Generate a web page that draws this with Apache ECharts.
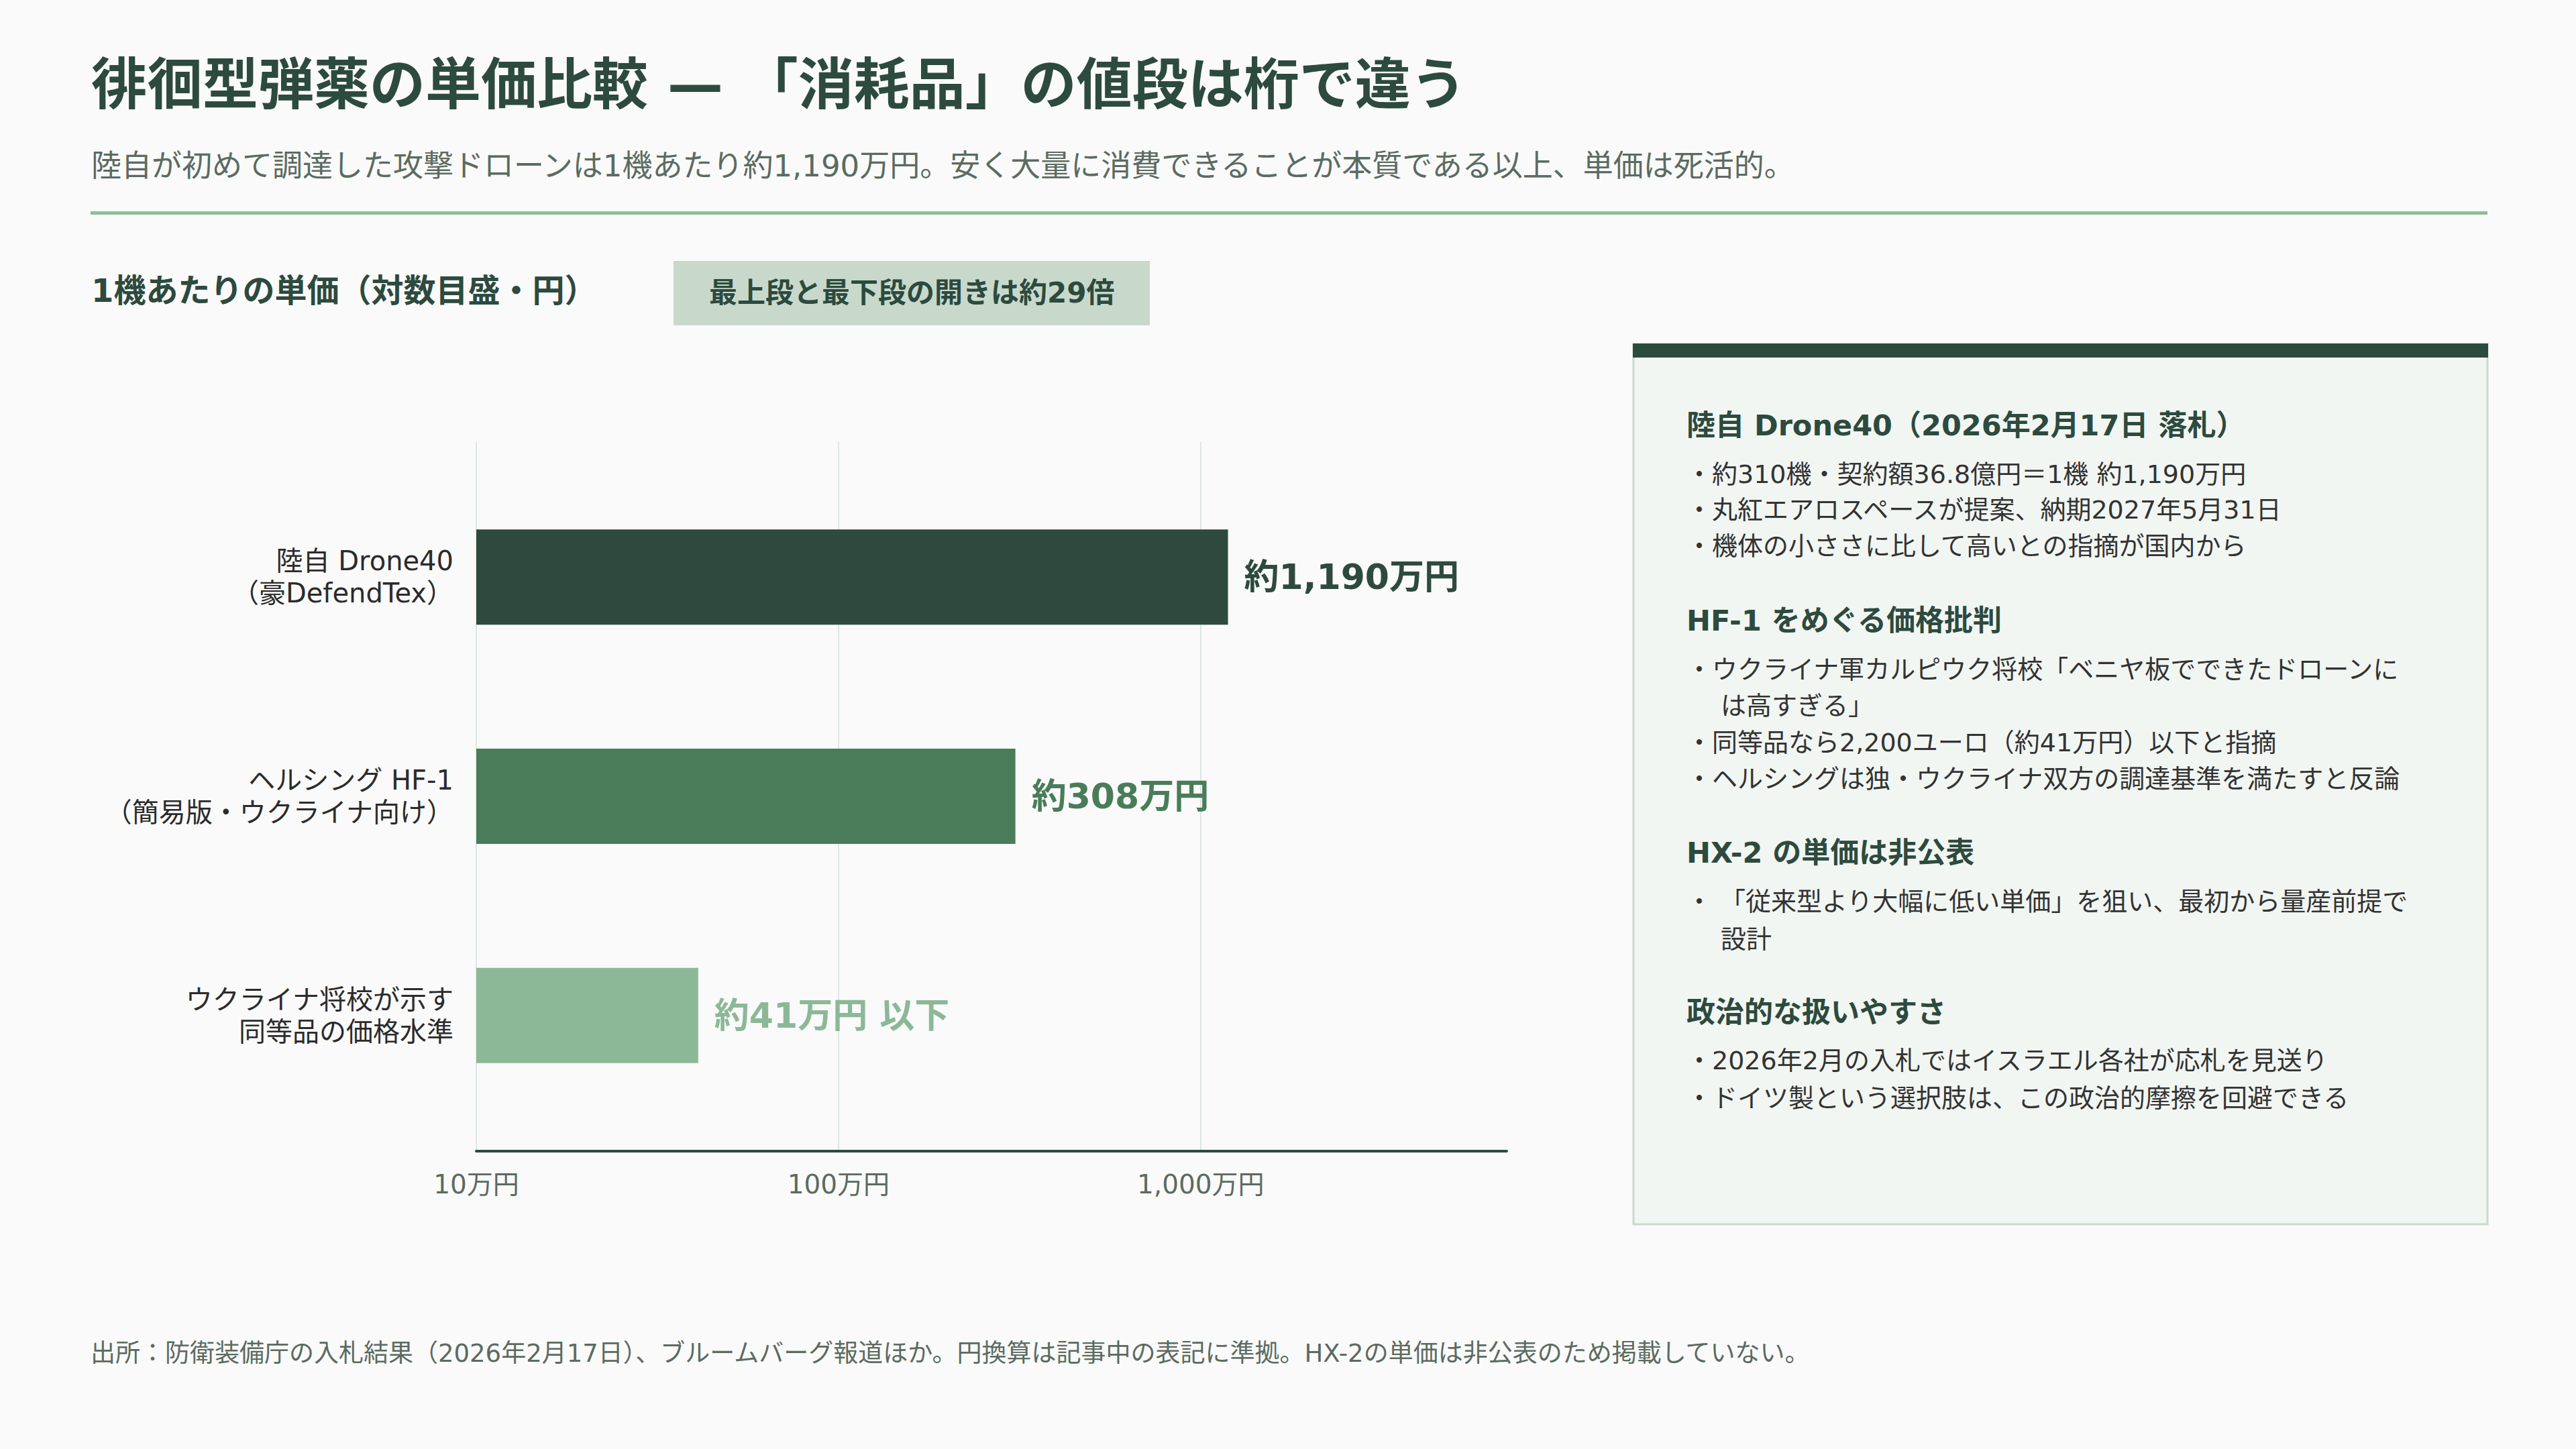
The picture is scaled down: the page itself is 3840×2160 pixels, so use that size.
<!DOCTYPE html>
<html>
<head>
<meta charset="utf-8">
<script src="https://cdn.jsdelivr.net/npm/echarts@6/dist/echarts.min.js"></script>
<style>
html,body{margin:0;padding:0;background:#fafafa;}
#c{width:3840px;height:2160px;}
</style>
</head>
<body>
<div id="c"></div>
<script>
// ---- data ----
const categories = ['陸自 Drone40\n（豪DefendTex）', 'ヘルシング HF-1\n（簡易版・ウクライナ向け）', 'ウクライナ将校が示す\n同等品の価格水準'];
const unitPricesYen = [11900000, 3080000, 410000];
const valueLabels = ['約1,190万円', '約308万円', '約41万円 以下'];
const axisMinYen = 100000;
const axisMaxYen = 70000000;

const titleText = '徘徊型弾薬の単価比較 — 「消耗品」の値段は桁で違う';
const subtitleText = '陸自が初めて調達した攻撃ドローンは1機あたり約1,190万円。安く大量に消費できることが本質である以上、単価は死活的。';
const chartLabel = '1機あたりの単価（対数目盛・円）';
const badgeText = '最上段と最下段の開きは約29倍';
const footerText = '出所：防衛装備庁の入札結果（2026年2月17日）、ブルームバーグ報道ほか。円換算は記事中の表記に準拠。HX-2の単価は非公表のため掲載していない。';

const panelHeadings = ['陸自 Drone40（2026年2月17日 落札）', 'HF-1 をめぐる価格批判', 'HX-2 の単価は非公表', '政治的な扱いやすさ'];
const panelBullets = [
  ['・約310機・契約額36.8億円＝1機 約1,190万円', '・丸紅エアロスペースが提案、納期2027年5月31日', '・機体の小ささに比して高いとの指摘が国内から'],
  ['・ウクライナ軍カルピウク将校「ベニヤ板でできたドローンに', '　は高すぎる」', '・同等品なら2,200ユーロ（約41万円）以下と指摘', '・ヘルシングは独・ウクライナ双方の調達基準を満たすと反論'],
  ['・ 「従来型より大幅に低い単価」を狙い、最初から量産前提で', '　設計'],
  ['・2026年2月の入札ではイスラエル各社が応札を見送り', '・ドイツ製という選択肢は、この政治的摩擦を回避できる']
];

// ---- styles ----
const FONT = "'DejaVu Sans', 'Noto Sans CJK JP', sans-serif";
const DARK = '#2d4a3e';
const barPalette = ['#2e4a3e', '#4a7c59', '#8cb898'];

const chart = echarts.init(document.getElementById('c'), null, {renderer: 'svg'});

function txt(text, x, y, size, weight, color, extra) {
  return Object.assign({
    type: 'text', x: x, y: y, silent: true,
    style: {text: text, fontSize: size, fontWeight: weight, fontFamily: FONT, fill: color, align: 'left', verticalAlign: 'middle'}
  }, extra || {});
}

const graphics = [
  txt(titleText, 136, 126, 83, 'bold', DARK),
  txt(subtitleText, 136, 247, 45, 'normal', '#5b6b61'),
  {type: 'rect', shape: {x: 135, y: 315, width: 3573, height: 5}, style: {fill: '#8fbc9a'}, silent: true},
  txt(chartLabel, 136, 433, 48, 'bold', DARK),
  {type: 'rect', shape: {x: 1004, y: 389, width: 710, height: 96}, style: {fill: '#c8d9cc'}, silent: true},
  txt(badgeText, 1057, 436, 42, 'bold', DARK),
  // panel
  {type: 'rect', shape: {x: 2435, y: 513, width: 1273, height: 1312}, style: {fill: '#f1f6f2', stroke: '#c9dacd', lineWidth: 3}, silent: true},
  {type: 'rect', shape: {x: 2434, y: 512, width: 1275, height: 21}, style: {fill: DARK}, silent: true},
  txt(footerText, 135, 2017, 37, 'normal', '#5b6b61')
];

const headingY = [634, 925, 1271, 1509];
const bulletY = [[707, 760, 814], [998, 1052, 1107, 1161], [1344, 1400], [1581, 1637]];
panelHeadings.forEach(function (h, i) {
  graphics.push(txt(h, 2514, headingY[i], 43, 'bold', DARK));
  panelBullets[i].forEach(function (b, j) {
    const cont = b.charAt(0) === '　';
    graphics.push(txt(cont ? b.slice(1) : b, cont ? 2565 : 2514, bulletY[i][j], 38, 'normal', '#333333'));
  });
});

const fmtAxis = function (v) {
  const man = Math.round(v / 10000);
  return man.toLocaleString('en-US') + '万円';
};

chart.setOption({
  backgroundColor: '#fafafa',
  animation: false,
  grid: [
    {left: 710, width: 1536, top: 697, height: 980, containLabel: false},
    {left: 710, width: 1536, top: 659, height: 1057, containLabel: false}
  ],
  xAxis: [
    {type: 'log', logBase: 10, gridIndex: 0, min: axisMinYen, max: axisMaxYen, show: false},
    {type: 'log', logBase: 10, gridIndex: 1, min: axisMinYen, max: axisMaxYen,
      axisLine: {show: true, lineStyle: {color: DARK, width: 4}},
      axisTick: {show: false},
      splitLine: {show: true, showMinLine: true, showMaxLine: false, lineStyle: {color: '#dde7e0', width: 2}},
      axisLabel: {show: true, showMaxLabel: false, formatter: fmtAxis, margin: 30, fontSize: 39, fontFamily: FONT, color: '#5b6b61'}
    }
  ],
  yAxis: [
    {type: 'category', gridIndex: 0, data: categories, inverse: true,
      axisLine: {show: false}, axisTick: {show: false}, splitLine: {show: false},
      axisLabel: {margin: 34, fontSize: 40, lineHeight: 48, fontFamily: FONT, color: '#2b2b2b', align: 'right'}
    },
    {type: 'value', gridIndex: 1, show: false, min: 0, max: 1}
  ],
  series: [{
    type: 'bar', xAxisIndex: 0, yAxisIndex: 0,
    data: unitPricesYen,
    barWidth: 142,
    itemStyle: {color: function (p) { return barPalette[p.dataIndex]; }},
    label: {
      show: true, position: 'right', distance: 24,
      formatter: function (p) { return valueLabels[p.dataIndex]; },
      fontSize: 52, fontWeight: 'bold', fontFamily: FONT,
      color: 'inherit'
    }
  }],
  graphic: graphics
});
</script>
</body>
</html>
